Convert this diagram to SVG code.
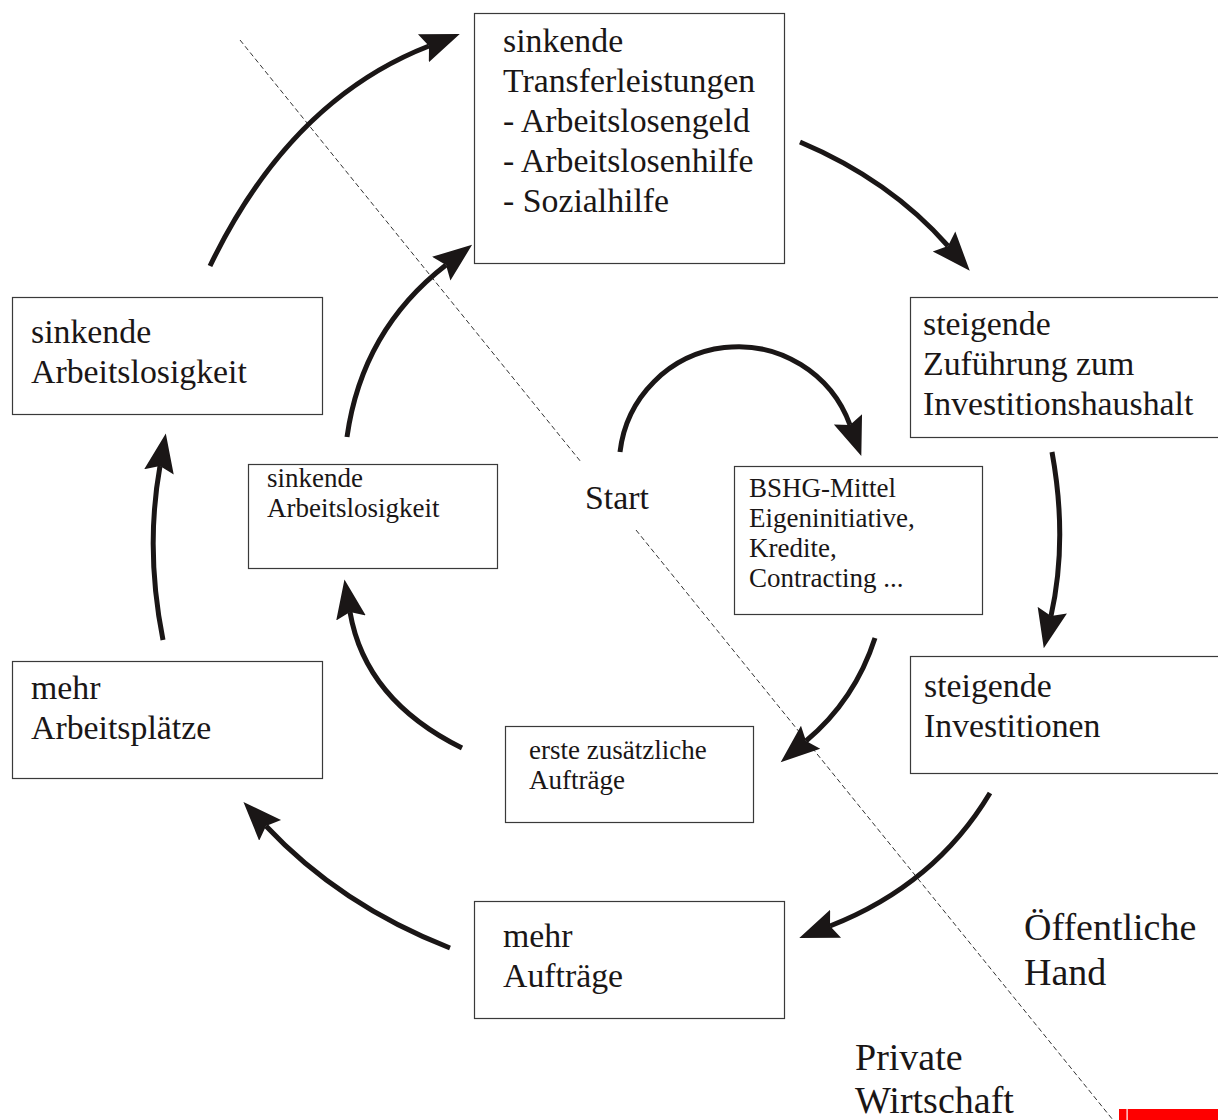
<svg xmlns="http://www.w3.org/2000/svg" width="1218" height="1120" viewBox="0 0 1218 1120">
<style>
.box{fill:#fff;stroke:#3a3a3a;stroke-width:1.2}
.t{font-family:"Liberation Serif","Times New Roman",serif;fill:#1a1616}
.big{font-size:33.8px}
.sm{font-size:27px}
.xl{font-size:38px}
.arr{fill:none;stroke:#1a1616;stroke-width:5;marker-end:url(#ah)}
.dash{fill:none;stroke:#333;stroke-width:1;stroke-dasharray:5 3}
</style>
<defs>
<marker id="ah" markerUnits="userSpaceOnUse" viewBox="0 -17 42 34" markerWidth="42" markerHeight="34" refX="6" refY="0" orient="auto">
<path d="M39,0 L0,-15 L6,0 L0,15 Z" fill="#1a1616"/>
</marker>
</defs>
<rect width="1218" height="1120" fill="#fff"/>
<g id="divider">
<line class="dash" x1="240" y1="40" x2="581" y2="462"/>
<line class="dash" x1="636" y1="530" x2="1113" y2="1120"/>
</g>
<g id="connectors">
<path class="arr" d="M210,266 Q290,100 429,46"/>
<path class="arr" d="M800,142 Q890,180 948,246"/>
<path class="arr" d="M1052,452 Q1068,540 1051,616"/>
<path class="arr" d="M990,793 Q935,885 830,926"/>
<path class="arr" d="M450,948 Q340,905 266,826"/>
<path class="arr" d="M163,640 Q145,550 160,466"/>
<path class="arr" d="M347,437 Q362,330 446,265"/>
<path class="arr" d="M620,452 A119,119 0 0 1 850,425"/>
<path class="arr" d="M875,638 Q855,700 806,741"/>
<path class="arr" d="M462,748 Q365,700 350,612"/>
</g>
<g id="n-transfer">
<rect class="box" x="474.5" y="13.5" width="310" height="250"/>
<text class="t big" x="503"><tspan x="503" y="52">sinkende</tspan><tspan x="503" y="92">Transferleistungen</tspan><tspan x="503" y="132">- Arbeitslosengeld</tspan><tspan x="503" y="172">- Arbeitslosenhilfe</tspan><tspan x="503" y="212">- Sozialhilfe</tspan></text>
</g>
<g id="n-zufuehrung">
<rect class="box" x="910.5" y="297.5" width="320" height="140"/>
<text class="t big"><tspan x="923" y="335">steigende</tspan><tspan x="923" y="375">Zuführung zum</tspan><tspan x="923" y="415">Investitionshaushalt</tspan></text>
</g>
<g id="n-investitionen">
<rect class="box" x="910.5" y="656.5" width="320" height="117"/>
<text class="t big"><tspan x="924" y="697">steigende</tspan><tspan x="924" y="737">Investitionen</tspan></text>
</g>
<g id="n-auftraege">
<rect class="box" x="474.5" y="901.5" width="310" height="117"/>
<text class="t big"><tspan x="503" y="947">mehr</tspan><tspan x="503" y="987">Aufträge</tspan></text>
</g>
<g id="n-arbeitsplaetze">
<rect class="box" x="12.5" y="661.5" width="310" height="117"/>
<text class="t big"><tspan x="31" y="699">mehr</tspan><tspan x="31" y="739">Arbeitsplätze</tspan></text>
</g>
<g id="n-arbeitslosigkeit">
<rect class="box" x="12.5" y="297.5" width="310" height="117"/>
<text class="t big"><tspan x="31" y="343">sinkende</tspan><tspan x="31" y="383">Arbeitslosigkeit</tspan></text>
</g>
<g id="n-arbeitslosigkeit-inner">
<rect class="box" x="248.5" y="464.5" width="249" height="104"/>
<text class="t sm"><tspan x="267" y="487">sinkende</tspan><tspan x="267" y="517">Arbeitslosigkeit</tspan></text>
</g>
<g id="n-bshg">
<rect class="box" x="734.5" y="466.5" width="248" height="148"/>
<text class="t sm"><tspan x="749" y="497">BSHG-Mittel</tspan><tspan x="749" y="527">Eigeninitiative,</tspan><tspan x="749" y="557">Kredite,</tspan><tspan x="749" y="587">Contracting ...</tspan></text>
</g>
<g id="n-erste">
<rect class="box" x="505.5" y="726.5" width="248" height="96"/>
<text class="t sm"><tspan x="529" y="759">erste zusätzliche</tspan><tspan x="529" y="789">Aufträge</tspan></text>
</g>
<g id="labels">
<text class="t big" x="585" y="509">Start</text>
<text class="t xl"><tspan x="1024" y="940">Öffentliche</tspan><tspan x="1024" y="985">Hand</tspan></text>
<text class="t xl"><tspan x="855" y="1070">Private</tspan><tspan x="855" y="1113">Wirtschaft</tspan></text>
</g>
<g id="corner">
<rect x="1119" y="1109" width="99" height="11" fill="#fe0000"/>
<rect x="1126.5" y="1109" width="1.2" height="11" fill="#fff"/>
</g>
</svg>
